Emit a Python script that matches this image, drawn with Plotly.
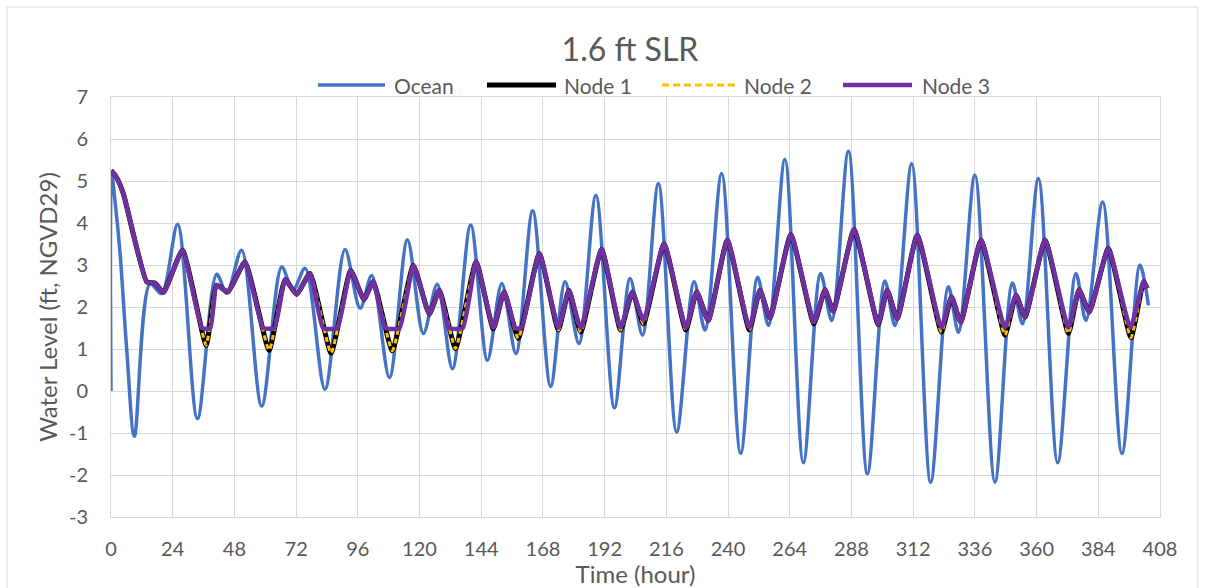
import plotly.graph_objects as go

# ---------------- data ----------------
ocean_hours = [0, 0.3, 1.6, 3.5, 6.1, 9.1, 15.2, 19.7, 25.9, 33.6, 41.1, 45, 50.8, 58.6,
               66.4, 70.8, 75.5, 83.2, 91, 96.9, 101.4, 108.3, 115.3, 121.5, 126.9, 132.8,
               139.9, 146.4, 152, 157.5, 164, 171, 176.6, 182, 188.6, 195.8, 201.9, 206.7,
               212.9, 220, 226.8, 231, 237.5, 244.9, 251.5, 255.7, 262.1, 269.3, 276, 280.3,
               286.8, 294.2, 301, 304.9, 311.4, 318.8, 325.7, 329.6, 336, 343.8, 350.6, 354.5,
               360.7, 368.2, 375.3, 379.2, 385.7, 393.2, 400.2, 403.5]
ocean_levels = [0, 5.15, 4.5, 3.3, 1.0, -1.08, 2.55, 2.32, 3.97, -0.66, 2.78, 2.33, 3.35, -0.36,
                2.95, 2.4, 2.92, 0.04, 3.37, 1.97, 2.75, 0.32, 3.6, 1.37, 2.54, 0.53,
                3.95, 0.73, 2.56, 0.89, 4.29, 0.11, 2.6, 1.13, 4.66, -0.4, 2.68, 1.33,
                4.94, -0.98, 2.6, 1.45, 5.18, -1.49, 2.71, 1.56, 5.52, -1.71, 2.8, 1.68,
                5.71, -1.97, 2.62, 1.56, 5.41, -2.17, 2.48, 1.4, 5.14, -2.17, 2.57, 1.6,
                5.06, -1.71, 2.8, 1.68, 4.5, -1.49, 3.0, 2.04]

node1_hours = [0, 2, 4.8, 13.9, 17.1, 20.4, 27.8, 37, 41.1, 45.5, 52.1, 61.5, 67.7, 72.2,
               77.4, 85.6, 93.2, 98.4, 102, 109.4, 117.6, 123.8, 127.7, 134, 142, 148.7,
               152.9, 158.4, 166.6, 174, 178.1, 182.7, 190.8, 198.2, 202.8, 207.1, 215.1,
               223.6, 227.8, 232.3, 239.7, 248.3, 252.4, 256.3, 264.4, 273.4, 277.7, 280.9,
               289, 298.4, 301.9, 305.8, 313.6, 323, 326.9, 330.5, 338.4, 347.7, 352, 355.5,
               363.3, 372.4, 376.5, 380.5, 387.9, 396.7, 401.6, 403]
node1_levels = [5.25, 5.1, 4.7, 2.6, 2.57, 2.35, 3.35, 1.09, 2.52, 2.36, 3.07, 0.97, 2.65, 2.3,
                2.8, 0.9, 2.87, 2.18, 2.6, 0.96, 2.99, 1.83, 2.4, 1.01, 3.07, 1.48,
                2.36, 1.25, 3.27, 1.45, 2.4, 1.4, 3.37, 1.45, 2.36, 1.6, 3.5,
                1.45, 2.36, 1.68, 3.59, 1.45, 2.4, 1.74, 3.72, 1.6, 2.41, 1.9,
                3.84, 1.58, 2.4, 1.72, 3.71, 1.4, 2.24, 1.64, 3.59, 1.33, 2.28, 1.76,
                3.59, 1.37, 2.41, 1.88, 3.39, 1.27, 2.6, 2.44]

# Node 2 follows Node 1 throughout
node2_hours = list(node1_hours)
node2_levels = list(node1_levels)

node3_hours = [0, 2, 4.8, 13.9, 17.1, 20.4, 27.8, 35.4, 38.6, 41.1, 45.5, 52.1, 59.2, 63.6,
               67.7, 72.2, 77.4, 82.5, 88, 93.2, 98.4, 102, 106.8, 112.2, 117.6, 123.8,
               127.7, 131.5, 136.8, 142, 148.7, 152.9, 157.3, 159.6, 166.6, 174, 178.1,
               182.7, 190.8, 198.2, 202.8, 207.1, 215.1, 223.6, 227.8, 232.3, 239.7, 248.3,
               252.4, 256.3, 264.4, 273.4, 277.7, 280.9, 289, 298.4, 301.9, 305.8, 313.6,
               323, 326.9, 330.5, 338.4, 347.7, 352, 355.5, 363.3, 372.4, 376.5, 380.5,
               387.9, 396.5, 401.6, 403]
node3_levels = [5.25, 5.1, 4.7, 2.6, 2.57, 2.35, 3.35, 1.5, 1.5, 2.52, 2.36, 3.07, 1.5, 1.5,
                2.65, 2.3, 2.8, 1.5, 1.5, 2.87, 2.18, 2.6, 1.5, 1.5, 2.99, 1.83,
                2.4, 1.5, 1.5, 3.07, 1.51, 2.36, 1.5, 1.5, 3.27, 1.51, 2.4,
                1.5, 3.37, 1.51, 2.36, 1.68, 3.5, 1.51, 2.36, 1.68, 3.59, 1.51,
                2.4, 1.74, 3.72, 1.64, 2.41, 1.9, 3.84, 1.6, 2.4, 1.72, 3.71,
                1.51, 2.24, 1.64, 3.59, 1.51, 2.28, 1.76, 3.59, 1.51, 2.41, 1.88,
                3.39, 1.51, 2.6, 2.44]

x_ticks = list(range(0, 409, 24))
y_ticks = list(range(-3, 8))

series_names = ["Ocean", "Node 1", "Node 2", "Node 3"]

# ---------------- styling ----------------
FONT = "Lato, 'Open Sans', sans-serif"
GREY = "#595959"
GRID = "#D9D9D9"
C_OCEAN = "#4472C4"
C_N1 = "#000000"
C_N2 = "#FFC000"
C_N3 = "#7030A0"
N2_DASH = "7px,4px"

fig = go.Figure()
fig.add_trace(go.Scatter(x=ocean_hours, y=ocean_levels, name=series_names[0], mode="lines",
                         line=dict(color=C_OCEAN, width=3.5, shape="spline", smoothing=0.9),
                         showlegend=False))
fig.add_trace(go.Scatter(x=node1_hours, y=node1_levels, name=series_names[1], mode="lines",
                         line=dict(color=C_N1, width=5, shape="spline", smoothing=0.45),
                         showlegend=False))
fig.add_trace(go.Scatter(x=node2_hours, y=node2_levels, name=series_names[2], mode="lines",
                         line=dict(color=C_N2, width=3, dash="5px,4px",
                                   shape="spline", smoothing=0.45),
                         showlegend=False))
fig.add_trace(go.Scatter(x=node3_hours, y=node3_levels, name=series_names[3], mode="lines",
                         line=dict(color=C_N3, width=4.5, shape="spline", smoothing=0.45),
                         showlegend=False))

# plot area in pixels: x 111..1160, y 97..517
L, R, T, B = 111, 1160, 97, 517
W, H = R - L, B - T


def px(xp):
    return (xp - L) / W


def py(yp):
    return (B - yp) / H


shapes = [dict(type="rect", xref="paper", yref="paper",
               x0=px(7), x1=px(1198), y0=py(590), y1=py(7),
               line=dict(color=GRID, width=1), fillcolor="rgba(0,0,0,0)", layer="below")]
annotations = []

legend_items = [
    (series_names[0], C_OCEAN, 3.5, "solid", 318, 385, 392),
    (series_names[1], C_N1, 5, "solid", 487, 556, 562),
    (series_names[2], C_N2, 3, N2_DASH, 662, 737, 742),
    (series_names[3], C_N3, 4.5, "solid", 843, 912, 920),
]
LEG_Y = 85
for name, col, wid, dash, x0, x1, xt in legend_items:
    shapes.append(dict(type="line", xref="paper", yref="paper",
                       x0=px(x0), x1=px(x1), y0=py(LEG_Y), y1=py(LEG_Y),
                       line=dict(color=col, width=wid, dash=dash)))
    annotations.append(dict(text=name, xref="paper", yref="paper", x=px(xt), y=py(LEG_Y),
                            xanchor="left", yanchor="middle", showarrow=False,
                            font=dict(family=FONT, size=21, color=GREY)))

fig.update_layout(
    width=1206, height=588,
    margin=dict(l=L, r=1206 - R, t=T, b=588 - B, autoexpand=False),
    paper_bgcolor="white", plot_bgcolor="white",
    showlegend=False,
    title=dict(text="1.6 ft SLR", x=630 / 1206, xanchor="center", y=1 - 50 / 588,
               yanchor="middle", font=dict(family=FONT, size=32, color=GREY)),
    font=dict(family=FONT, color=GREY),
    shapes=shapes,
    annotations=annotations,
)
fig.update_xaxes(range=[0, 408], tickvals=x_ticks, ticktext=[str(v) for v in x_ticks],
                 showgrid=True, gridcolor=GRID, gridwidth=1, zeroline=False,
                 showline=True, linecolor=GRID, mirror=True, automargin=False,
                 ticks="outside", ticklen=14, tickcolor="rgba(0,0,0,0)",
                 tickfont=dict(family=FONT, size=20, color=GREY),
                 title=dict(text="Time (hour)", font=dict(family=FONT, size=24, color=GREY),
                            standoff=0))
fig.update_yaxes(range=[-3, 7], tickvals=y_ticks, ticktext=[str(v) for v in y_ticks],
                 showgrid=True, gridcolor=GRID, gridwidth=1, zeroline=False,
                 showline=True, linecolor=GRID, mirror=True, automargin=False,
                 ticks="outside", ticklen=18, tickcolor="rgba(0,0,0,0)",
                 tickfont=dict(family=FONT, size=20, color=GREY),
                 title=dict(text="Water Level (ft, NGVD29)",
                            font=dict(family=FONT, size=24, color=GREY), standoff=4))

fig.write_html("out.html")
